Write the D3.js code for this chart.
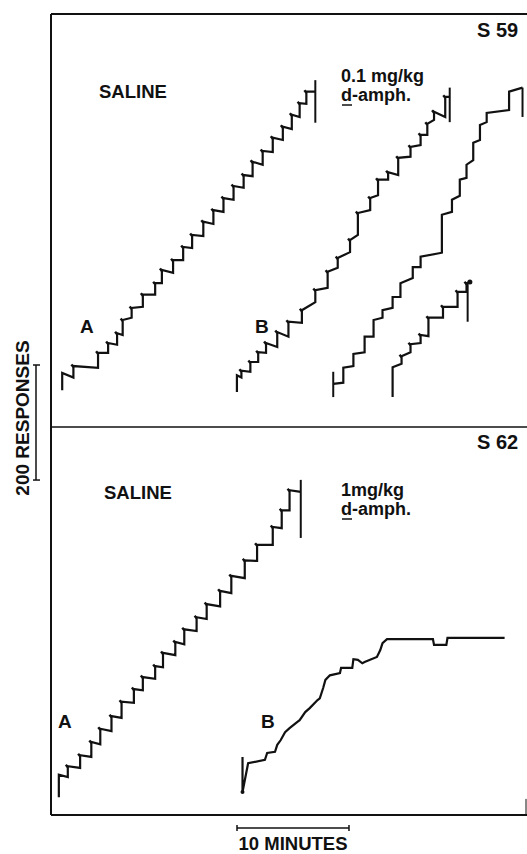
<!DOCTYPE html>
<html>
<head>
<meta charset="utf-8">
<script src="https://cdn.jsdelivr.net/npm/d3@7"></script>
<style>
  body { margin: 0; background: #fff; }
  text { font-family: "Liberation Sans", Arial, sans-serif; font-weight: bold; fill: #111; }
</style>
</head>
<body>
<div id="chart"></div>
<script>
// Cumulative records: each step = [minute, responses before rise, responses after rise]
// Top panel (S 59)
const topSalineSteps = [[1.0,64,94],[2.0,86,106],[4.2,103,129],[5.1,129,146],[5.9,143,163],[6.4,160,186],[7.2,190,207],[8.2,209,230],[9.3,230,250],[9.9,250,273],[10.9,268,290],[11.8,290,313],[12.6,311,334],[13.6,332,357],[14.5,353,377],[15.4,374,398],[16.3,395,419],[17.2,416,438],[18.0,436,461],[18.9,456,480],[19.8,478,503],[20.7,499,522],[21.5,518,543],[22.2,539,563],[22.8,562,583]];
const topSalineEnd = [23.6, 583];
const topSalinePen = [23.6, 529, 603];

const topDrugSteps1 = [[16.6,61,90],[17.0,86,98],[17.8,96,113],[18.5,113,130],[19.2,129,146],[20.2,139,165],[21.2,157,183],[22.4,181,203],[23.6,217,238],[24.7,242,270],[25.6,277,294],[26.7,304,325],[27.4,334,372],[28.5,377,398],[29.2,403,430],[30.1,430,443],[31.0,438,468],[32.1,470,487],[33.0,490,508],[33.6,508,527],[34.2,534,548],[35.2,539,574]];
const topDrugEnd1 = [35.6, 574];
const topDrugPen1 = [35.6, 530, 590];

const topDrugStart2 = [25.2, 75];
const topDrugSteps2 = [[26.1,77,103],[27.0,106,127],[28.0,130,157],[28.8,157,186],[29.6,190,203],[30.5,207,226],[31.2,226,250],[32.3,259,278],[33.0,278,296],[34.9,303,369],[35.8,374,395],[36.5,402,430],[37.1,433,456],[37.7,464,494],[38.3,499,525],[38.9,530,546],[40.9,551,583]];
const topDrugEnd2 = [42.1, 590];
const topDrugPens2 = [[25.2,52,96],[42.1,539,590]];

const topDrugSteps3 = [[30.5,52,104],[31.3,110,123],[32.1,130,144],[33.0,146,160],[33.7,158,190],[35.0,190,209],[36.3,209,235],[37.1,235,250]];
const topDrugEnd3 = [37.4, 252];
const topDrugPen3 = [37.2, 183, 252];

// Bottom panel (S 62)
const botSalineSteps = [[0.7,31,70],[1.5,66,85],[2.6,82,104],[3.6,101,127],[4.4,123,150],[5.4,146,172],[6.3,169,197],[7.4,195,219],[8.2,217,240],[9.3,237,259],[10.0,257,282],[11.1,278,301],[11.9,297,323],[13.0,320,344],[13.9,341,367],[15.1,363,390],[16.1,386,416],[17.3,412,443],[18.4,442,470],[19.8,470,501],[20.6,499,530],[21.3,530,565]];
const botSalineEnd = [22.3, 562];
const botSalinePen = [22.3, 482, 583];

// 1 mg/kg record, traced as [minute, responses]
const botDrugPoints = [[17.1,101],[17.1,40],[17.6,90],[19.1,96],[19.3,108],[20.0,110],[20.2,122],[20.5,130],[20.9,144],[21.3,151],[22.0,162],[22.2,165],[22.7,179],[23.1,186],[23.8,200],[24.0,203],[24.3,221],[24.5,235],[24.9,243],[25.8,247],[25.9,256],[26.9,256],[27.0,271],[27.4,270],[27.8,264],[28.0,266],[29.1,275],[29.4,287],[29.6,299],[30.0,306],[34.1,306],[34.2,296],[35.3,296],[35.4,308],[40.5,308]];

const scaleMinutes = 10;
const scaleResponses = 200;

// Set up svg
const width = 527, height = 854;
const svg = d3.select("#chart").append("svg")
    .attr("width", width)
    .attr("height", height);

svg.append("rect").attr("width", width).attr("height", height).attr("fill", "#fff");

// Scales: same time axis for both panels, separate response axes
const x = d3.scaleLinear().domain([0, 42.5]).range([51, 527]);
const yTop = d3.scaleLinear().domain([0, 718]).range([427, 14]);
const yBot = d3.scaleLinear().domain([0, 675]).range([815, 427]);

const ink = "#111";

// Frame
const frame = svg.append("g").attr("stroke", ink).attr("stroke-width", 2).attr("fill", "none");
frame.append("line").attr("x1", x(0)).attr("x2", x(0)).attr("y1", yTop.range()[1]).attr("y2", yBot.range()[0]);
frame.append("line").attr("x1", x(0)).attr("x2", width).attr("y1", yTop.range()[1]).attr("y2", yTop.range()[1]);
frame.append("line").attr("x1", x(0)).attr("x2", width).attr("y1", yTop(0)).attr("y2", yTop(0)).attr("stroke-width", 1.5);
frame.append("line").attr("x1", x(0)).attr("x2", width).attr("y1", yBot(0)).attr("y2", yBot(0));
frame.append("line").attr("x1", width - 1).attr("x2", width - 1).attr("y1", yBot(0)).attr("y2", yBot(28)).attr("stroke-width", 1);

const line = ys => d3.line().x(d => x(d[0])).y(d => ys(d[1]));

function drawSteps(steps, end, ys, start, ticks) {
    const pts = start ? [start] : [];
    steps.forEach(([t, from, to]) => { pts.push([t, from], [t, to]); });
    pts.push(end);
    svg.append("path")
        .attr("d", line(ys)(pts))
        .attr("fill", "none")
        .attr("stroke", ink)
        .attr("stroke-width", 2.2)
        .attr("stroke-linejoin", "miter");
    if (ticks) {
        // reinforcement marks at the top of each rise
        svg.append("g").selectAll("line")
            .data(steps.slice(1))
            .enter().append("line")
            .attr("x1", d => x(d[0]))
            .attr("y1", d => ys(d[2]) + 1)
            .attr("x2", d => x(d[0]) - 2)
            .attr("y2", d => ys(d[2]) - 1.5)
            .attr("stroke", ink)
            .attr("stroke-width", 2.4);
    }
}

function drawPen(p, ys) {
    svg.append("line")
        .attr("x1", x(p[0])).attr("x2", x(p[0]))
        .attr("y1", ys(p[1])).attr("y2", ys(p[2]))
        .attr("stroke", ink).attr("stroke-width", 2);
}

drawSteps(topSalineSteps, topSalineEnd, yTop, null, true);
drawPen(topSalinePen, yTop);
drawSteps(topDrugSteps1, topDrugEnd1, yTop, null, true);
drawPen(topDrugPen1, yTop);
drawSteps(topDrugSteps2, topDrugEnd2, yTop, topDrugStart2, false);
topDrugPens2.forEach(p => drawPen(p, yTop));
drawSteps(topDrugSteps3, topDrugEnd3, yTop, null, true);
drawPen(topDrugPen3, yTop);
svg.append("circle").attr("cx", x(topDrugEnd3[0])).attr("cy", yTop(topDrugEnd3[1])).attr("r", 2.5).attr("fill", ink);

drawSteps(botSalineSteps, botSalineEnd, yBot, null, true);
drawPen(botSalinePen, yBot);

svg.append("path")
    .attr("d", line(yBot)(botDrugPoints))
    .attr("fill", "none")
    .attr("stroke", ink)
    .attr("stroke-width", 2.2);
svg.append("circle").attr("cx", x(botDrugPoints[1][0])).attr("cy", yBot(botDrugPoints[1][1])).attr("r", 2).attr("fill", ink);

// Labels
function label(txt, px, py, size) {
    return svg.append("text").attr("x", px).attr("y", py).attr("font-size", size).text(txt);
}
label("S 59", 477, 37, 20);
label("SALINE", 99, 98, 18.5);
label("0.1 mg/kg", 341, 82, 18);
label("d-amph.", 341, 101, 18);
svg.append("line").attr("x1", 342).attr("x2", 352).attr("y1", 105).attr("y2", 105).attr("stroke", ink).attr("stroke-width", 1.5);
label("A", 80, 333, 19);
label("B", 255, 333, 19);

label("S 62", 477, 449, 20);
label("SALINE", 104, 499, 18.5);
label("1mg/kg", 341, 496, 18);
label("d-amph.", 341, 515, 18);
svg.append("line").attr("x1", 342).attr("x2", 352).attr("y1", 519).attr("y2", 519).attr("stroke", ink).attr("stroke-width", 1.5);
label("A", 58, 728, 19);
label("B", 261, 728, 19);

// Scale bars
const barY0 = 365;
const barLen = yTop(0) - yTop(scaleResponses);
const rbar = svg.append("g").attr("stroke", ink).attr("stroke-width", 1.5);
rbar.append("line").attr("x1", 36).attr("x2", 36).attr("y1", barY0).attr("y2", barY0 + barLen);
rbar.append("line").attr("x1", 33).attr("x2", 40).attr("y1", barY0).attr("y2", barY0);
rbar.append("line").attr("x1", 33).attr("x2", 40).attr("y1", barY0 + barLen).attr("y2", barY0 + barLen);
svg.append("text")
    .attr("transform", "translate(29,418) rotate(-90)")
    .attr("text-anchor", "middle")
    .attr("font-size", 19)
    .text(scaleResponses + " RESPONSES");

const tx0 = 237;
const tLen = x(scaleMinutes) - x(0);
const tbar = svg.append("g").attr("stroke", ink).attr("stroke-width", 1.5);
tbar.append("line").attr("x1", tx0).attr("x2", tx0 + tLen).attr("y1", 828).attr("y2", 828);
tbar.append("line").attr("x1", tx0).attr("x2", tx0).attr("y1", 825).attr("y2", 831);
tbar.append("line").attr("x1", tx0 + tLen).attr("x2", tx0 + tLen).attr("y1", 825).attr("y2", 831);
svg.append("text")
    .attr("x", tx0 + tLen / 2).attr("y", 850)
    .attr("text-anchor", "middle")
    .attr("font-size", 18.5)
    .text(scaleMinutes + " MINUTES");
</script>
</body>
</html>
